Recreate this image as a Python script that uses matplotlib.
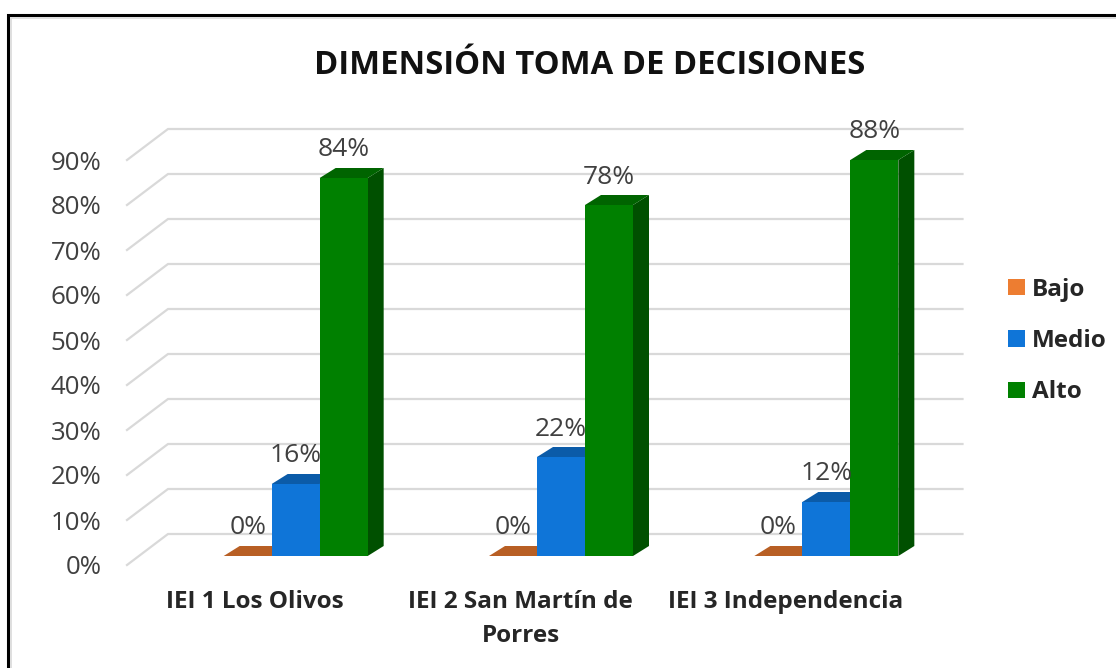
import matplotlib
matplotlib.use("Agg")
import matplotlib.pyplot as plt
from matplotlib.lines import Line2D
from matplotlib.patches import Polygon, Patch
from matplotlib.transforms import Affine2D

plt.rcParams['font.family'] = ['Open Sans', 'DejaVu Sans']

categories = ["IEI 1 Los Olivos", "IEI 2 San Martín de\nPorres", "IEI 3 Independencia"]
series_names = ["Bajo", "Medio", "Alto"]
bajo = [0, 0, 0]
medio = [16, 22, 12]
alto = [84, 78, 88]
yticks = [0, 10, 20, 30, 40, 50, 60, 70, 80, 90]
title = "DIMENSIÓN TOMA DE DECISIONES"

front_colors = ["#ED7D31", "#0F75D8", "#008000"]
top_colors = ["#B85F24", "#0B5BA8", "#006400"]
side_colors = ["#B85F24", "#0A4F92", "#005000"]

W, H = 1116, 668
fig = plt.figure(figsize=(W / 100, H / 100), dpi=100, facecolor="white")
ax = fig.add_axes([127 / W, (H - 565) / H, 796 / W, 405 / H])
ax.set_xlim(-0.5, 2.5)
ax.set_ylim(0, 90)
ax.patch.set_alpha(0)
for s in ax.spines.values():
    s.set_visible(False)

px_x = 796 / 3
px_y = 405 / 90

# wall gridlines
wall_dx, wall_dy = 41 / px_x, 31 / px_y
for v in yticks:
    ax.plot([-0.5, -0.5 + wall_dx, 2.5 + wall_dx - 1.5 / px_x], [v, v + wall_dy, v + wall_dy],
            color="#D9D9D9", lw=1.6, clip_on=False, zorder=1, solid_joinstyle="miter")

# bars with depth
shift = Affine2D().translate(36, 9)
tf = ax.transData + shift
bw = 48 / px_x
dx, dy = 16 / px_x, 10 / px_y
offsets = [-bw, 0, bw]
for k, vals in enumerate([bajo, medio, alto]):
    for i, v in enumerate(vals):
        xc = i + offsets[k]
        x0, x1 = xc - bw / 2, xc + bw / 2
        ax.add_patch(Polygon([[x1, 0], [x1 + dx, dy], [x1 + dx, v + dy], [x1, v]],
                             closed=True, fc=side_colors[k], ec="none",
                             transform=tf, clip_on=False, zorder=3 + k))
        ax.add_patch(Polygon([[x0, v], [x0 + dx, v + dy], [x1 + dx, v + dy], [x1, v]],
                             closed=True, fc=top_colors[k], ec="none",
                             transform=tf, clip_on=False, zorder=3 + k))
        ax.bar(xc, v, width=bw, color=front_colors[k], transform=tf,
               clip_on=False, zorder=3.5 + k)
        ax.annotate(f"{v}%", (xc, v), xycoords=tf, xytext=(0, 28),
                    textcoords="offset pixels", ha="center", va="center",
                    fontsize=19, color="#404040", zorder=10, annotation_clip=False)

label_shift = 4.5 / px_x
ax.set_xticks([i - label_shift for i in range(3)])
ax.set_xticklabels(categories, fontsize=17.5, fontweight="bold", color="#262626",
                   linespacing=1.55)
ax.set_yticks(yticks)
ax.set_yticklabels([f"{v}%" for v in yticks], fontsize=18.6, color="#404040")
ax.tick_params(axis="both", length=0)
ax.tick_params(axis="y", pad=18.5)
ax.tick_params(axis="x", pad=18)

fig.text(590 / W, 1 - 65 / H, title, ha="center", va="center", fontsize=23.6,
         fontweight="bold", color="#111111")

handles = [Patch(fc=c, ec="none", label=n) for c, n in zip(front_colors, series_names)]
fig.legend(handles=handles, loc="center left", bbox_to_anchor=(1008 / W, 1 - 341 / H),
           frameon=False, prop={"size": 17.5, "weight": "bold"}, labelcolor="#262626",
           handlelength=0.68, handleheight=0.68, handletextpad=0.32, labelspacing=1.13,
           borderpad=0, borderaxespad=0)

# picture frame
fig.add_artist(Line2D([8 / W, 8 / W, 1], [0, 1 - 15 / H, 1 - 15 / H], color="black", lw=2.2,
                      solid_joinstyle="miter"))
fig.add_artist(Line2D([10.5 / W, 10.5 / W, 1], [0, 1 - 17.5 / H, 1 - 17.5 / H], color="#D9D9D9",
                      lw=1.2, solid_joinstyle="miter"))

fig.savefig("out.png", dpi=100)
